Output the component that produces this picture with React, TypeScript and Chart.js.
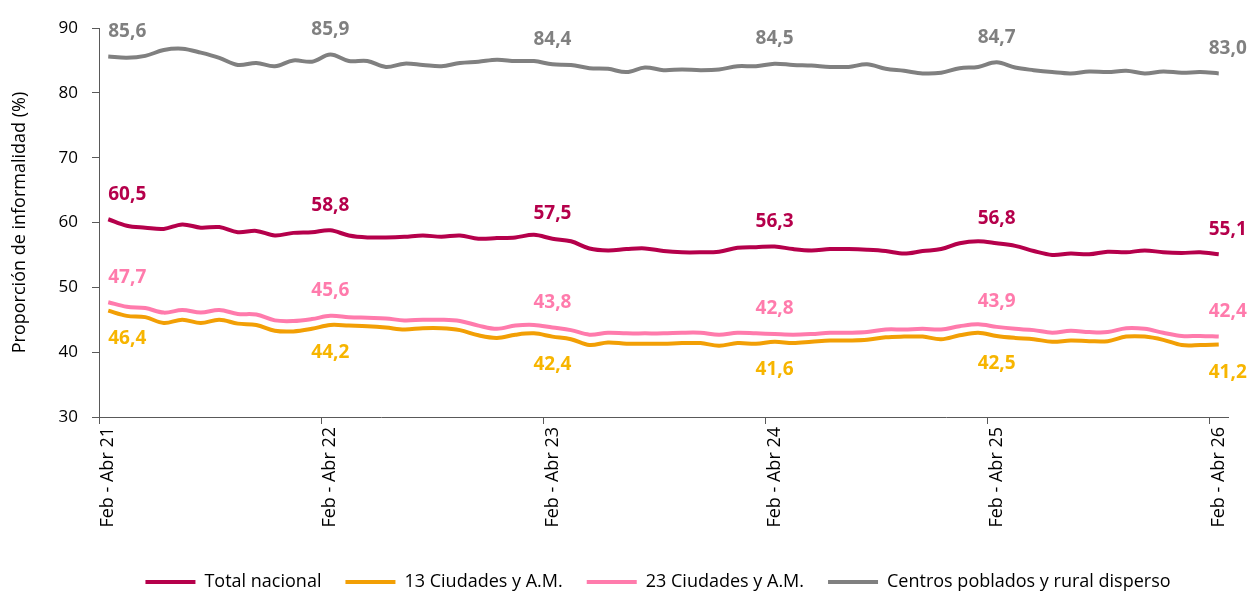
import React, { useEffect, useRef } from 'react';
import { Chart, registerables } from 'chart.js';

Chart.register(...registerables);

const categories: string[] = [
  'Feb - Abr 21', 'Mar - May 21', 'Abr - Jun 21', 'May - Jul 21', 'Jun - Ago 21', 'Jul - Sep 21',
  'Ago - Oct 21', 'Sep - Nov 21', 'Oct - Dic 21', 'Nov 21 - Ene 22', 'Dic 21 - Feb 22', 'Ene - Mar 22',
  'Feb - Abr 22', 'Mar - May 22', 'Abr - Jun 22', 'May - Jul 22', 'Jun - Ago 22', 'Jul - Sep 22',
  'Ago - Oct 22', 'Sep - Nov 22', 'Oct - Dic 22', 'Nov 22 - Ene 23', 'Dic 22 - Feb 23', 'Ene - Mar 23',
  'Feb - Abr 23', 'Mar - May 23', 'Abr - Jun 23', 'May - Jul 23', 'Jun - Ago 23', 'Jul - Sep 23',
  'Ago - Oct 23', 'Sep - Nov 23', 'Oct - Dic 23', 'Nov 23 - Ene 24', 'Dic 23 - Feb 24', 'Ene - Mar 24',
  'Feb - Abr 24', 'Mar - May 24', 'Abr - Jun 24', 'May - Jul 24', 'Jun - Ago 24', 'Jul - Sep 24',
  'Ago - Oct 24', 'Sep - Nov 24', 'Oct - Dic 24', 'Nov 24 - Ene 25', 'Dic 24 - Feb 25', 'Ene - Mar 25',
  'Feb - Abr 25', 'Mar - May 25', 'Abr - Jun 25', 'May - Jul 25', 'Jun - Ago 25', 'Jul - Sep 25',
  'Ago - Oct 25', 'Sep - Nov 25', 'Oct - Dic 25', 'Nov 25 - Ene 26', 'Dic 25 - Feb 26', 'Ene - Mar 26',
  'Feb - Abr 26',
];

const totalNacional: number[] = [
  60.5, 59.5, 59.2, 59.0, 59.7, 59.2, 59.3, 58.5, 58.7, 58.0, 58.4, 58.5,
  58.8, 58.0, 57.7, 57.7, 57.8, 58.0, 57.8, 58.0, 57.5, 57.6, 57.7, 58.1,
  57.5, 57.1, 56.0, 55.7, 55.9, 56.0, 55.6, 55.4, 55.4, 55.5, 56.1, 56.2,
  56.3, 55.9, 55.7, 55.9, 55.9, 55.8, 55.6, 55.2, 55.6, 55.9, 56.8, 57.1,
  56.8, 56.4, 55.6, 55.0, 55.2, 55.1, 55.5, 55.4, 55.7, 55.4, 55.3, 55.4,
  55.1,
];

const ciudades13: number[] = [
  46.4, 45.6, 45.4, 44.5, 45.0, 44.5, 45.0, 44.4, 44.2, 43.3, 43.2, 43.6,
  44.2, 44.1, 44.0, 43.8, 43.5, 43.7, 43.7, 43.4, 42.6, 42.2, 42.7, 42.9,
  42.4, 42.0, 41.1, 41.5, 41.3, 41.3, 41.3, 41.4, 41.4, 41.0, 41.4, 41.3,
  41.6, 41.4, 41.6, 41.8, 41.8, 41.9, 42.3, 42.4, 42.4, 42.0, 42.6, 43.0,
  42.5, 42.2, 42.0, 41.6, 41.8, 41.7, 41.7, 42.4, 42.4, 41.9, 41.1, 41.1,
  41.2,
];

const ciudades23: number[] = [
  47.7, 47.0, 46.8, 46.1, 46.5, 46.1, 46.5, 45.9, 45.8, 44.9, 44.8, 45.1,
  45.6, 45.4, 45.3, 45.2, 44.9, 45.0, 45.0, 44.8, 44.1, 43.6, 44.1, 44.2,
  43.8, 43.4, 42.7, 43.0, 42.9, 42.9, 42.9, 43.0, 43.0, 42.7, 43.0, 42.9,
  42.8, 42.7, 42.8, 43.0, 43.0, 43.1, 43.5, 43.5, 43.6, 43.5, 44.0, 44.3,
  43.9, 43.6, 43.4, 43.0, 43.3, 43.1, 43.1, 43.7, 43.6, 43.0, 42.5, 42.5,
  42.4,
];

const ruralDisperso: number[] = [
  85.6, 85.4, 85.7, 86.6, 86.8, 86.2, 85.4, 84.3, 84.6, 84.1, 85.0, 84.8,
  85.9, 84.9, 84.9, 84.0, 84.5, 84.3, 84.1, 84.6, 84.8, 85.1, 84.9, 84.9,
  84.4, 84.3, 83.8, 83.7, 83.2, 83.9, 83.5, 83.6, 83.5, 83.6, 84.1, 84.1,
  84.5, 84.3, 84.2, 84.0, 84.0, 84.4, 83.7, 83.4, 83.0, 83.1, 83.8, 84.0,
  84.7, 83.9, 83.5, 83.2, 83.0, 83.3, 83.2, 83.4, 83.0, 83.3, 83.1, 83.2,
  83.0,
];

const seriesNames: string[] = [
  'Total nacional',
  '13 Ciudades y A.M.',
  '23 Ciudades y A.M.',
  'Centros poblados y rural disperso',
];

const labelIndices: number[] = [0, 12, 24, 36, 48, 60];
const yTicks: number[] = [30, 40, 50, 60, 70, 80, 90];

const lineColors = ['#B5004B', '#F29F05', '#FF7BAC', '#808080'];
const labelColors = ['#B5004B', '#F7B500', '#FF7BAC', '#808080'];
const labelDy = [-25, 28, -25, -25];

const FONT = '"Open Sans", "Noto Sans", sans-serif';

const pointLabelPlugin = {
  id: 'pointLabelPlugin',
  afterDatasetsDraw(chart: any) {
    const ctx = chart.ctx;
    chart.data.datasets.forEach((ds: any, di: number) => {
      const meta = chart.getDatasetMeta(di);
      labelIndices.forEach((idx, k) => {
        const pt = meta.data[idx];
        if (!pt) return;
        const v = ds.data[idx] as number;
        const text = v.toFixed(1).replace('.', ',');
        ctx.save();
        ctx.font = `bold 19px ${FONT}`;
        ctx.fillStyle = labelColors[di];
        ctx.textBaseline = 'middle';
        let x = pt.x;
        let align: CanvasTextAlign = 'center';
        if (k === 0) {
          align = 'left';
          x = pt.x;
        } else if (k === labelIndices.length - 1) {
          align = 'left';
          x = pt.x - 10;
        }
        ctx.textAlign = align;
        ctx.fillText(text, x, pt.y + labelDy[di]);
        ctx.restore();
      });
    });
  },
};

const legendShiftPlugin = {
  id: 'legendShiftPlugin',
  afterLayout(chart: any) {
    const lg = chart.legend;
    if (!lg) return;
    const target = 658;
    const cur = (lg.left + lg.right) / 2;
    const dx = target - cur;
    lg.left += dx;
    lg.right += dx;
  },
};

export default function App() {
  const canvasRef = useRef<HTMLCanvasElement | null>(null);

  useEffect(() => {
    if (!canvasRef.current) return;
    const seriesData = [totalNacional, ciudades13, ciudades23, ruralDisperso];
    const chart = new Chart(canvasRef.current, {
      type: 'line',
      data: {
        labels: categories,
        datasets: seriesData.map((d, i) => ({
          label: seriesNames[i],
          data: d,
          borderColor: lineColors[i],
          backgroundColor: lineColors[i],
          borderWidth: 4,
          pointRadius: 0,
          pointHoverRadius: 0,
          tension: 0.35,
          fill: false,
          pointStyle: 'line',
        })),
      },
      options: {
        responsive: true,
        maintainAspectRatio: false,
        animation: false,
        layout: { padding: { top: 28, right: 25, left: 0, bottom: -5 } },
        plugins: {
          tooltip: { enabled: false },
          legend: {
            position: 'bottom',
            labels: {
              usePointStyle: true,
              pointStyle: 'line',
              pointStyleWidth: 50,
              font: { family: FONT, size: 18 },
              color: '#000',
              padding: 24,
            },
          },
        },
        scales: {
          x: {
            type: 'category',
            offset: true,
            afterFit: (axis: any) => {
              axis.height = 132;
            },
            grid: {
              offset: true,
              drawOnChartArea: false,
              drawTicks: true,
              tickLength: 7,
              color: (c: any) => (c.index % 12 === 0 ? '#595959' : 'rgba(0,0,0,0)'),
            },
            border: { color: '#595959', width: 1 },
            ticks: {
              autoSkip: false,
              maxRotation: 90,
              minRotation: 90,
              padding: 3,
              color: '#000',
              font: { family: FONT, size: 18 },
              callback: (_v: any, i: number) => (labelIndices.includes(i) ? categories[i] : ''),
            },
          },
          y: {
            min: yTicks[0],
            max: yTicks[yTicks.length - 1],
            afterFit: (axis: any) => {
              axis.width = 99;
            },
            afterBuildTicks: (axis: any) => {
              axis.ticks = yTicks.map((v) => ({ value: v }));
            },
            grid: { drawOnChartArea: false, tickLength: 7, color: '#595959' },
            border: { color: '#595959', width: 1 },
            ticks: {
              padding: 14,
              color: '#000',
              font: { family: FONT, size: 17 },
            },
            title: {
              display: true,
              text: 'Proporción de informalidad (%)',
              color: '#000',
              font: { family: FONT, size: 18 },
              padding: { top: 9, bottom: 0 },
            },
          },
        },
      },
      plugins: [pointLabelPlugin, legendShiftPlugin],
    });
    return () => chart.destroy();
  }, []);

  return (
    <div style={{ position: 'fixed', left: 0, top: 0, width: 1253, height: 596, background: '#fff' }}>
      <canvas ref={canvasRef} />
    </div>
  );
}
